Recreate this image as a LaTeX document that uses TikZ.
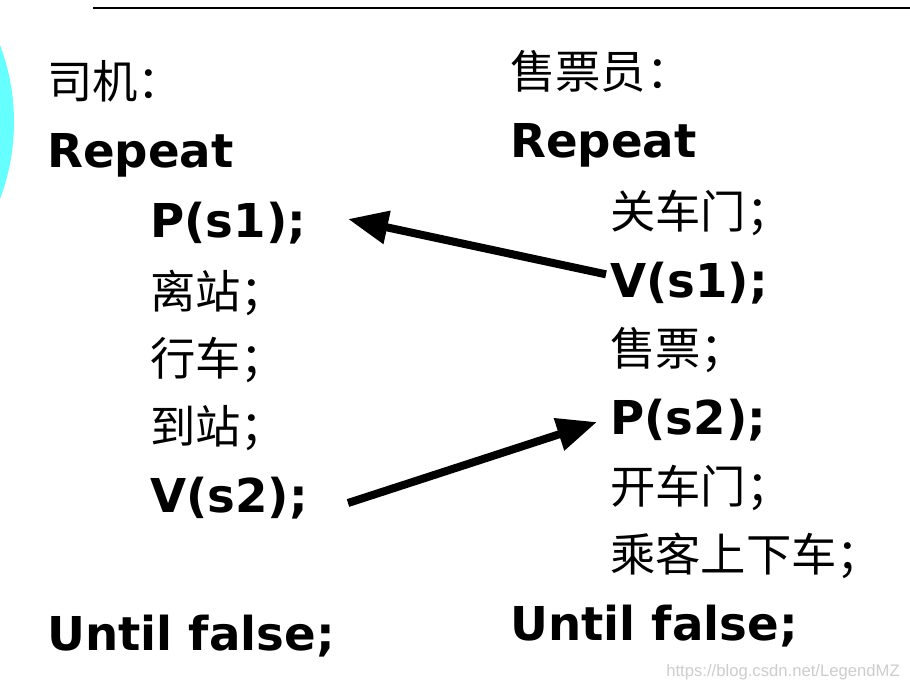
\documentclass[tikz,border=0pt]{standalone}
\usepackage{fontspec}
\setmainfont{DejaVu Sans}
\newfontfamily\cjkf{Noto Sans CJK SC}
\newfontfamily\wmf{Liberation Sans}
\usetikzlibrary{arrows.meta}
\definecolor{cyanblob}{RGB}{102,255,255}
\definecolor{wmgray}{RGB}{205,205,205}
\begin{document}
\begin{tikzpicture}[x=0.75pt,y=-0.75pt,
  code/.style={anchor=base west,inner sep=0pt,font=\fontsize{35}{40}\selectfont\bfseries},
  cjk/.style={anchor=base west,inner sep=0pt,font=\fontsize{34}{38}\selectfont\cjkf},
  bigarrow/.style={line width=6pt,-{Triangle[length=30pt,width=24pt]}}]
\useasboundingbox (0,0) rectangle (910,693);
\fill[white] (0,0) rectangle (910,693);
% decoration
\begin{scope}
\clip (0,0) rectangle (910,693);
\fill[cyanblob] (-204,122) circle (218);
\end{scope}
\draw[line width=1.5pt] (93,8) -- (910,8);
% left column
\node[cjk] (drv) at (47,98) {司机：};
\node[code] (rep1) at (47,167) {Repeat};
\node[code] (ps1) at (150,237) {P(s1);};
\node[cjk] (l1) at (150,308) {离站；};
\node[cjk] (l2) at (150,375) {行车；};
\node[cjk] (l3) at (150,443) {到站；};
\node[code] (vs2) at (150,512) {V(s2);};
\node[code] (unt1) at (47,650) {Until false;};
% right column
\node[cjk] (sel) at (510,88) {售票员：};
\node[code] (rep2) at (510,157) {Repeat};
\node[cjk] (r1) at (610,228) {关车门；};
\node[code] (vs1) at (610,297) {V(s1);};
\node[cjk] (r2) at (610,365) {售票；};
\node[code] (ps2) at (610,434) {P(s2);};
\node[cjk] (r3) at (610,503) {开车门；};
\node[cjk] (r4) at (610,571) {乘客上下车；};
\node[code] (unt2) at (510,640) {Until false;};
% arrows
\draw[bigarrow] ([xshift=-3pt,yshift=17pt]vs1.base west) -- ([xshift=148.5pt,yshift=13.5pt]ps1.base west);
\draw[bigarrow] ([xshift=148.5pt,yshift=6.75pt]vs2.base west) -- ([xshift=-9.75pt,yshift=9pt]ps2.base west);
% watermark
\node[anchor=base east,inner sep=0pt,text=wmgray,font=\fontsize{12.5}{14}\selectfont\wmf] (wm) at (900,676) {https://blog.csdn.net/LegendMZ};
\end{tikzpicture}
\end{document}
